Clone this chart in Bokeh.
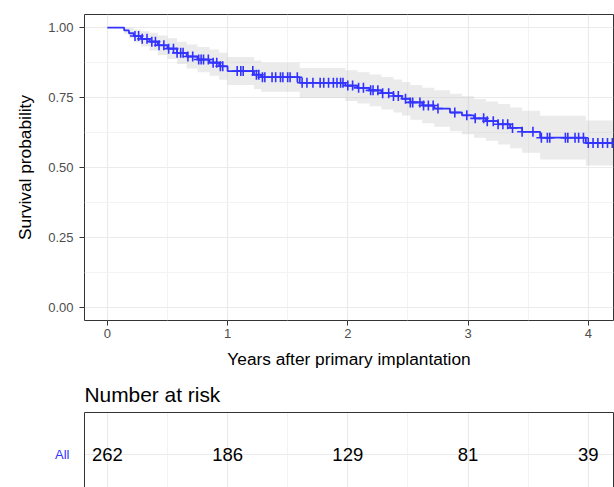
import numpy as np
from bokeh.plotting import figure
from bokeh.models import Range1d, FixedTicker, LinearAxis, ColumnDataSource
from bokeh.layouts import column
from bokeh.embed import file_html
from bokeh.resources import INLINE
from bokeh.core.properties import value

# ---- data ----
time = [0.0, 0.14, 0.18, 0.22, 0.28, 0.35, 0.42, 0.50, 0.58, 0.66, 0.75, 0.85, 0.93,
        1.00, 1.22, 1.28, 1.60, 1.98, 2.08, 2.18, 2.28, 2.38, 2.45, 2.52, 2.62, 2.72,
        2.85, 2.95, 3.05, 3.15, 3.25, 3.35, 3.45, 3.60, 3.98, 4.21]
surv = [1.0, 0.99, 0.98, 0.97, 0.96, 0.95, 0.937, 0.925, 0.91, 0.897, 0.886, 0.875, 0.862,
        0.845, 0.832, 0.823, 0.803, 0.793, 0.785, 0.776, 0.766, 0.756, 0.746, 0.733, 0.722, 0.711,
        0.697, 0.687, 0.676, 0.666, 0.655, 0.642, 0.628, 0.607, 0.588, 0.588]
upper = [1.0, 1.0, 1.0, 0.993, 0.987, 0.982, 0.972, 0.962, 0.95, 0.94, 0.931, 0.922, 0.91,
         0.895, 0.883, 0.875, 0.856, 0.848, 0.841, 0.833, 0.824, 0.815, 0.806, 0.795, 0.785, 0.776,
         0.764, 0.755, 0.745, 0.736, 0.727, 0.715, 0.703, 0.685, 0.668, 0.668]
lower = [1.0, 0.978, 0.962, 0.948, 0.933, 0.918, 0.902, 0.888, 0.87, 0.854, 0.841, 0.828, 0.814,
         0.795, 0.781, 0.771, 0.75, 0.738, 0.729, 0.719, 0.708, 0.697, 0.686, 0.671, 0.659, 0.646,
         0.63, 0.619, 0.607, 0.596, 0.583, 0.569, 0.553, 0.529, 0.508, 0.508]
censor_times = [0.23, 0.26, 0.29, 0.33, 0.37, 0.40, 0.43, 0.47, 0.51, 0.55, 0.58, 0.61, 0.63,
                0.67, 0.71, 0.76, 0.78, 0.80, 0.84, 0.88, 0.91, 0.94, 0.96, 1.08, 1.11, 1.13,
                1.21, 1.24, 1.26, 1.29, 1.31, 1.37, 1.40, 1.44, 1.46, 1.50, 1.52, 1.58, 1.62,
                1.66, 1.71, 1.77, 1.80, 1.84, 1.88, 1.91, 1.94, 1.96, 2.00, 2.04, 2.09, 2.13,
                2.19, 2.21, 2.25, 2.29, 2.34, 2.38, 2.42, 2.48, 2.52, 2.54, 2.60, 2.63, 2.67,
                2.71, 2.75, 2.89, 2.99, 3.06, 3.13, 3.16, 3.21, 3.25, 3.29, 3.33, 3.37, 3.45,
                3.54, 3.61, 3.66, 3.68, 3.81, 3.83, 3.89, 3.92, 3.96, 4.00, 4.04, 4.08, 4.12,
                4.16, 4.20]
risk_times = [0, 1, 2, 3, 4]
n_risk = [262, 186, 129, 81, 39]
strata = ["All"]
x_ticks = [0, 1, 2, 3, 4]
y_ticks = [0, 0.25, 0.5, 0.75, 1.0]
y_labels = ["0.00", "0.25", "0.50", "0.75", "1.00"]

FONT = "Liberation Sans"
BLUE = "#3333FF"
GRID = "#EBEBEB"
MINOR = "#F3F3F3"
BORDER = "#333333"

idx = np.searchsorted(np.array(time), np.array(censor_times), side="right") - 1
censor_surv = [surv[i] for i in idx]

x_range = Range1d(-0.19, 4.21)

p = figure(width=614, height=372, output_backend="svg", toolbar_location=None,
           x_range=x_range, y_range=Range1d(-0.046, 1.047),
           min_border_left=84, min_border_right=1, min_border_top=14, min_border_bottom=52)
p.background_fill_color = "white"
p.outline_line_color = BORDER
p.outline_line_width = 1

p.varea_step(x=time, y1=lower, y2=upper, step_mode="after",
             fill_color="#BEBEBE", fill_alpha=0.3)
p.step(x=time, y=surv, mode="after", line_color=BLUE, line_width=1.8)
p.scatter(x=censor_times, y=censor_surv, marker="cross", size=10,
          line_color=BLUE, line_width=1.6)

p.xaxis.ticker = FixedTicker(ticks=x_ticks, minor_ticks=[0.5, 1.5, 2.5, 3.5])
p.yaxis.ticker = FixedTicker(ticks=y_ticks, minor_ticks=[0.125, 0.375, 0.625, 0.875])
p.yaxis.major_label_overrides = {t: l for t, l in zip(y_ticks, y_labels)}
for ax in (p.xaxis, p.yaxis):
    ax.axis_line_color = None
    ax.major_tick_line_color = BORDER
    ax.major_tick_out = 5
    ax.major_tick_in = 0
    ax.minor_tick_line_color = None
    ax.major_label_text_font = FONT
    ax.major_label_text_font_size = "13px"
    ax.major_label_text_color = "#4D4D4D"
    ax.axis_label_text_font = FONT
    ax.axis_label_text_font_size = "17.3px"
    ax.axis_label_text_font_style = "normal"
    ax.axis_label_text_color = "black"
p.xaxis.axis_label = "Years after primary implantation"
p.yaxis.axis_label = "Survival probability"
p.xaxis.major_label_standoff = 3
p.xaxis.axis_label_standoff = 8
p.yaxis.major_label_standoff = 6
p.yaxis.axis_label_standoff = 10
for g in (p.xgrid, p.ygrid):
    g.grid_line_color = GRID
    g.grid_line_width = 1.2
    g.minor_grid_line_color = MINOR
    g.minor_grid_line_width = 1

# ---- risk table ----
t = figure(width=614, height=115, output_backend="svg", toolbar_location=None,
           x_range=x_range, y_range=Range1d(0.2, 2.0),
           min_border_left=84, min_border_right=1, min_border_top=40, min_border_bottom=0)
t.outline_line_color = None
t.title.text = "Number at risk"
t.title.text_font = FONT
t.title.text_font_size = "20.9px"
t.title.text_font_style = "normal"
t.title.text_color = "black"
t.title.align = "left"
t.title.standoff = 13

src = ColumnDataSource(dict(x=risk_times, y=[1] * len(risk_times),
                            n=[str(v) for v in n_risk]))
t.text(x="x", y="y", text="n", source=src, text_align="center", text_baseline="middle",
       text_font=value(FONT), text_font_size="18.5px", text_color="black")

t.xaxis.ticker = FixedTicker(ticks=x_ticks, minor_ticks=[0.5, 1.5, 2.5, 3.5])
t.xaxis.visible = False
t.yaxis.ticker = FixedTicker(ticks=[1])
t.yaxis.major_label_overrides = {1: strata[0]}
t.yaxis.axis_line_color = BORDER
t.yaxis.major_tick_line_color = None
t.yaxis.minor_tick_line_color = None
t.yaxis.major_label_standoff = 9
t.yaxis.major_label_text_font = FONT
t.yaxis.major_label_text_font_size = "13px"
t.yaxis.major_label_text_color = BLUE
for loc in ("right", "above"):
    ax = LinearAxis(ticker=FixedTicker(ticks=[]), axis_line_color=BORDER,
                    major_tick_line_color=None, minor_tick_line_color=None,
                    major_label_text_font_size="0px")
    t.add_layout(ax, loc)
for g in (t.xgrid, t.ygrid):
    g.grid_line_color = GRID
    g.grid_line_width = 1.2
    g.minor_grid_line_color = MINOR
t.ygrid.ticker = FixedTicker(ticks=[1])

layout = column(p, t, spacing=0)
open("out.html", "w").write(file_html(layout, INLINE))
